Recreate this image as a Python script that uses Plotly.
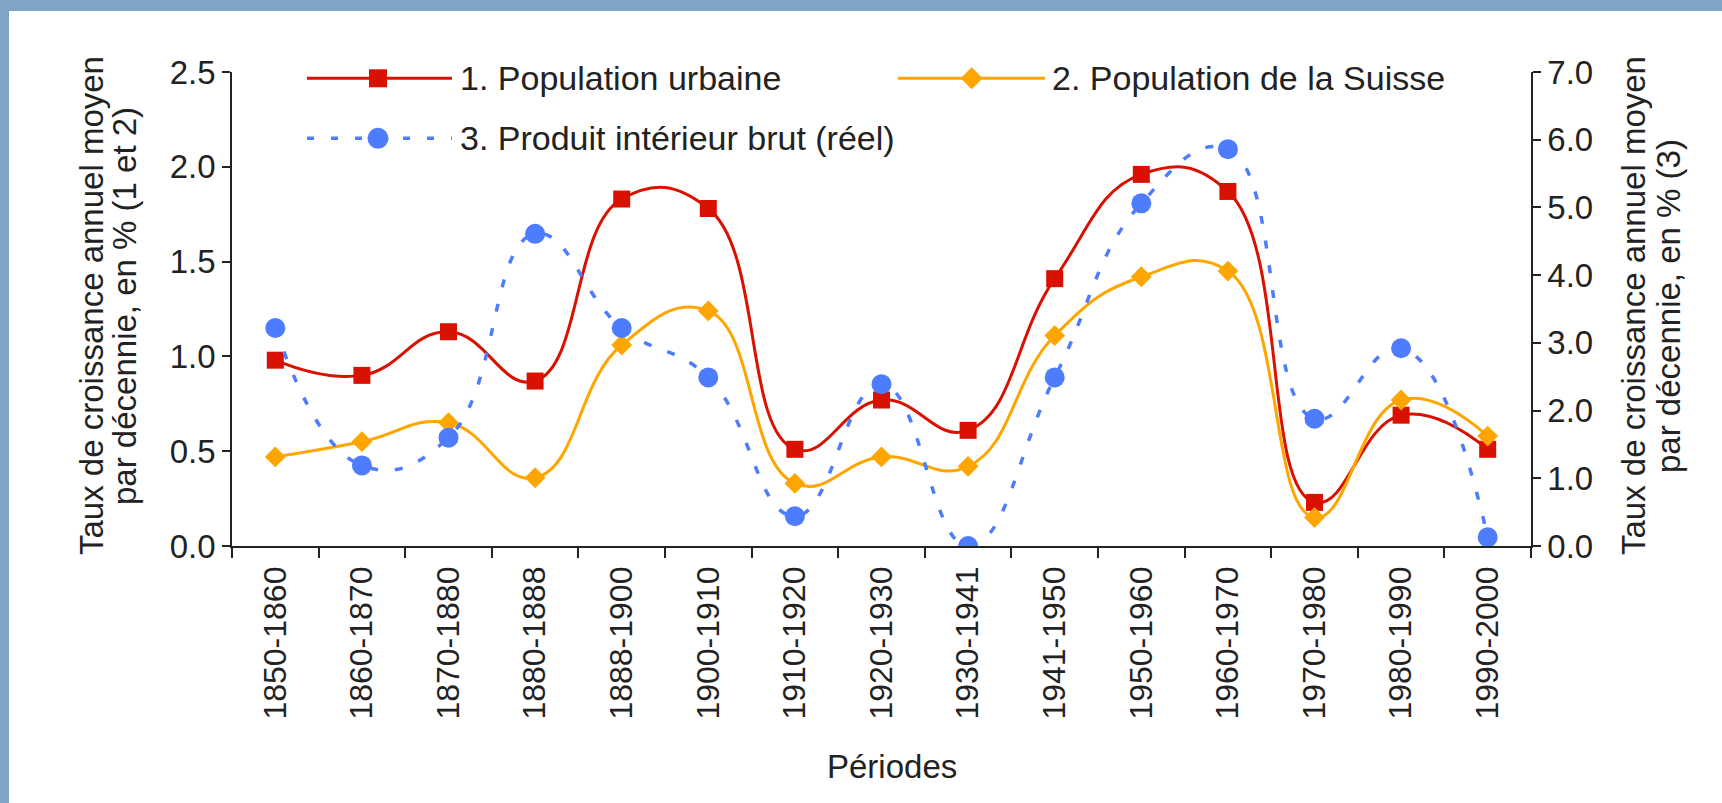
import plotly.graph_objects as go

periods = ["1850-1860", "1860-1870", "1870-1880", "1880-1888", "1888-1900",
           "1900-1910", "1910-1920", "1920-1930", "1930-1941", "1941-1950",
           "1950-1960", "1960-1970", "1970-1980", "1980-1990", "1990-2000"]
pop_urbaine = [0.98, 0.90, 1.13, 0.87, 1.83, 1.78, 0.51, 0.77, 0.61, 1.41,
               1.96, 1.87, 0.23, 0.69, 0.51]
pop_suisse = [0.47, 0.55, 0.65, 0.36, 1.06, 1.24, 0.33, 0.47, 0.42, 1.11,
              1.42, 1.45, 0.15, 0.77, 0.58]
pib_reel = [3.22, 1.19, 1.60, 4.61, 3.22, 2.49, 0.44, 2.39, 0.00, 2.49,
            5.06, 5.86, 1.88, 2.92, 0.13]

names = ["1. Population urbaine", "2. Population de la Suisse",
         "3. Produit intérieur brut (réel)"]
left_title = ["Taux de croissance annuel moyen", "par décennie, en % (1 et 2)"]
right_title = ["Taux de croissance annuel moyen", "par décennie, en % (3)"]
x_title = "Périodes"

RED = "#d91100"
ORANGE = "#ffa500"
BLUE = "#4d7cfe"
TXT = "#222222"
FONT = "Liberation Sans, Arial, sans-serif"
BORDER = "#80a4c6"
SMOOTH = 1.3

W, H = 1722, 803
L, R, T, B = 232, 191, 72, 257
PW, PH = W - L - R, H - T - B


def px(x):
    return (x - L) / PW


def py(y):
    return (H - B - y) / PH


fig = go.Figure()
fig.add_trace(go.Scatter(x=periods, y=pop_urbaine, name=names[0], mode="lines+markers",
                         line=dict(color=RED, width=3, shape="spline", smoothing=SMOOTH),
                         marker=dict(symbol="square", size=17, color=RED)))
fig.add_trace(go.Scatter(x=periods, y=pop_suisse, name=names[1], mode="lines+markers",
                         line=dict(color=ORANGE, width=3, shape="spline", smoothing=SMOOTH),
                         marker=dict(symbol="diamond", size=16, color=ORANGE)))
fig.add_trace(go.Scatter(x=periods, y=pib_reel, name=names[2], mode="lines+markers", yaxis="y2",
                         line=dict(color=BLUE, width=3.5, shape="spline", smoothing=SMOOTH,
                                   dash="8px,17px"),
                         marker=dict(symbol="circle", size=20, color=BLUE)))

shapes = []
# frame border (top and left)
shapes.append(dict(type="rect", xref="paper", yref="paper", x0=px(0), x1=px(W),
                   y0=py(11), y1=py(0), fillcolor=BORDER, line=dict(width=0), layer="below"))
shapes.append(dict(type="rect", xref="paper", yref="paper", x0=px(0), x1=px(9),
                   y0=py(H), y1=py(0), fillcolor=BORDER, line=dict(width=0), layer="below"))

# legend samples
row1, row2 = py(78.3), py(138.3)
shapes.append(dict(type="line", xref="paper", yref="paper", x0=px(307), x1=px(452), y0=row1, y1=row1,
                   line=dict(color=RED, width=3)))
shapes.append(dict(type="line", xref="paper", yref="paper", x0=px(898), x1=px(1045), y0=row1, y1=row1,
                   line=dict(color=ORANGE, width=3)))
shapes.append(dict(type="line", xref="paper", yref="paper", x0=px(307), x1=px(452), y0=row2, y1=row2,
                   line=dict(color=BLUE, width=3.5, dash="7px,17px")))
shapes.append(dict(type="rect", xref="paper", yref="paper", xsizemode="pixel", ysizemode="pixel",
                   xanchor=px(378), yanchor=row1, x0=-9, x1=9, y0=-9, y1=9,
                   fillcolor=RED, line=dict(width=0)))
shapes.append(dict(type="path", xref="paper", yref="paper", xsizemode="pixel", ysizemode="pixel",
                   xanchor=px(971.7), yanchor=row1, path="M -11 0 L 0 11 L 11 0 L 0 -11 Z",
                   fillcolor=ORANGE, line=dict(width=0)))
shapes.append(dict(type="circle", xref="paper", yref="paper", xsizemode="pixel", ysizemode="pixel",
                   xanchor=px(378), yanchor=row2, x0=-10.5, x1=10.5, y0=-10.5, y1=10.5,
                   fillcolor=BLUE, line=dict(width=0)))

legend_font = dict(family=FONT, size=34, color=TXT)
title_font = dict(family=FONT, size=33, color=TXT)
annotations = [
    dict(text=names[0], x=px(458), y=row1, xref="paper", yref="paper", xanchor="left",
         yanchor="middle", showarrow=False, font=legend_font),
    dict(text=names[1], x=px(1050), y=row1, xref="paper", yref="paper", xanchor="left",
         yanchor="middle", showarrow=False, font=legend_font),
    dict(text=names[2], x=px(458), y=row2, xref="paper", yref="paper", xanchor="left",
         yanchor="middle", showarrow=False, font=legend_font),
    dict(text=x_title, x=px(892), y=py(766), xref="paper", yref="paper", xanchor="center",
         yanchor="middle", showarrow=False, font=title_font),
]
for txt, xpos in zip(left_title, [91, 124]):
    annotations.append(dict(text=txt, x=px(xpos), y=py(306), xref="paper", yref="paper",
                            xanchor="center", yanchor="middle", textangle=-90,
                            showarrow=False, font=title_font))
for txt, xpos in zip(right_title, [1633, 1668]):
    annotations.append(dict(text=txt, x=px(xpos), y=py(306), xref="paper", yref="paper",
                            xanchor="center", yanchor="middle", textangle=-90,
                            showarrow=False, font=title_font))

axis_common = dict(showline=True, linecolor=TXT, linewidth=1.5, showgrid=False, zeroline=False,
                   ticks="outside", tickcolor=TXT, tickwidth=1.5)

fig.update_layout(
    width=W, height=H,
    margin=dict(l=L, r=R, t=T, b=B),
    paper_bgcolor="white", plot_bgcolor="white",
    showlegend=False,
    xaxis=dict(type="category", range=[-0.5, len(periods) - 0.5], tickson="boundaries",
               ticklen=10, tickangle=-90, ticklabelstandoff=6,
               tickfont=dict(family=FONT, size=32, color=TXT), **axis_common),
    yaxis=dict(range=[0, 2.5], dtick=0.5, tickformat=".1f", ticklen=8,
               tickfont=dict(family=FONT, size=33, color=TXT), **axis_common),
    yaxis2=dict(range=[0, 7], dtick=1, tickformat=".1f", ticklen=8, overlaying="y",
                side="right", tickfont=dict(family=FONT, size=33, color=TXT), **axis_common),
    shapes=shapes,
    annotations=annotations,
)

fig.write_html(
    "out.html",
    config={"displayModeBar": False},
    post_script="document.documentElement.style.margin='0';document.body.style.margin='0';"
                "document.body.style.overflow='hidden';",
)
